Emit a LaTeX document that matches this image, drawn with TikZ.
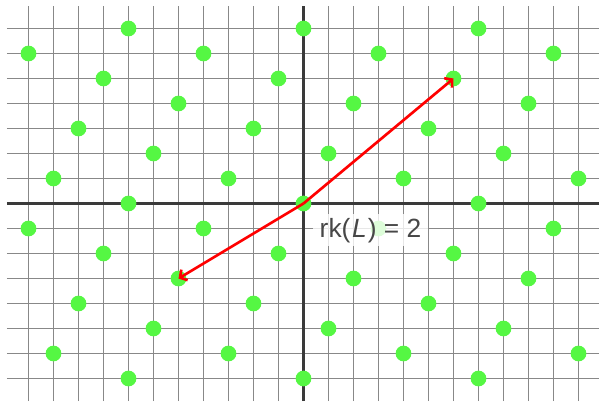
\documentclass[tikz,border=0pt]{standalone}
\usepackage{fontspec}
\setsansfont{Liberation Sans}
\usepackage{xcolor}
\definecolor{gridgray}{HTML}{888888}
\definecolor{axisgray}{HTML}{3A3A3A}
\definecolor{ptgreen}{HTML}{55F743}
\definecolor{labelgray}{HTML}{474747}
\usepackage{tikz}
\usetikzlibrary{arrows.meta}

\begin{document}
\begin{tikzpicture}[
    font=\sffamily,
    gridline/.style={draw=gridgray, line width=1.5pt},
    axisline/.style={draw=axisgray, line width=2.4pt},
    latpt/.style={circle, fill=ptgreen, inner sep=0pt, minimum size=0.63cm},
    vec/.style={draw=red, line width=3pt, -{Straight Barb[length=6pt, width=14pt]}},
    rklabel/.style={fill=white, fill opacity=0.8, text opacity=1, text=labelgray, inner xsep=8pt, inner ysep=4pt, font=\sffamily\fontsize{30}{34}\selectfont},
]
\useasboundingbox (-12.14,-7.9) rectangle (11.82,8.14);

% grid and axes
\draw[gridline, step=1] (-11.86,-7.9) grid (11.86,7.9);
\draw[axisline] (-11.86,0) -- (11.86,0);
\draw[axisline] (0,-7.9) -- (0,7.9);

% lattice generated by (1,2) and (3,-1)
\foreach \x in {-11,...,11} {
  \foreach \y in {-7,...,7} {
    \pgfmathtruncatemacro{\r}{mod(\x+3*\y,7)}
    \ifnum\r=0
      \node[latpt] (p\x_\y) at (\x,\y) {};
    \fi
  }
}

\draw[vec] (p0_0.center) -- (p6_5.center);
\draw[vec] (p0_0.center) -- (p-5_-3.center);

\node[rklabel, anchor=base] (rk) at (2.68,-1.34) {rk(\kern2pt\textit{L}\kern1pt) = 2};
\end{tikzpicture}
\end{document}
